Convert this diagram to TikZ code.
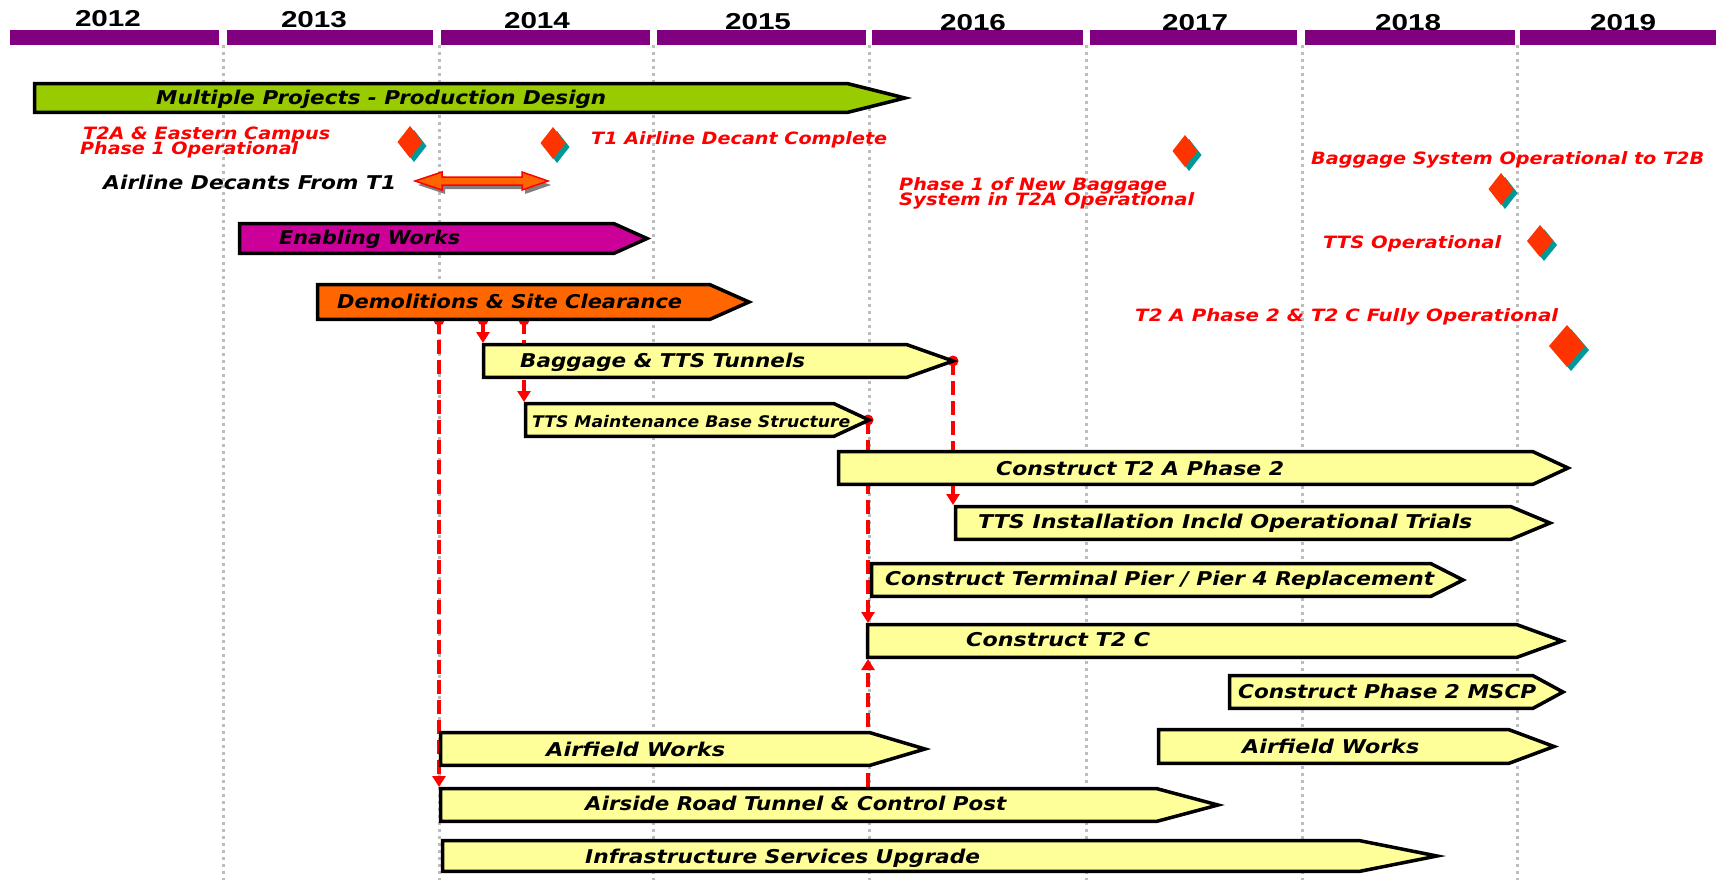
\documentclass[tikz,border=0pt]{standalone}
\usepackage{fontspec}
\usepackage{graphicx}
\usetikzlibrary{arrows.meta}
\newfontfamily\comicf{DejaVu Sans}
\newfontfamily\yearf{Liberation Sans}
\definecolor{barpurple}{HTML}{800080}
\definecolor{gridgrey}{HTML}{BDBDBD}
\definecolor{mpgreen}{HTML}{99CC00}
\definecolor{enmagenta}{HTML}{CC0099}
\definecolor{demoorange}{HTML}{FF6600}
\definecolor{taskyellow}{HTML}{FFFF99}
\definecolor{labelred}{HTML}{FF0000}
\definecolor{msorange}{HTML}{FF3300}
\definecolor{msteal}{HTML}{009999}
\definecolor{shadowgrey}{HTML}{808080}
\newcommand\fw[2]{\resizebox{#1pt}{\height}{#2}}
\newcommand\gbar[6]{\draw[ganttbar, fill=#1] (#2+1.7,#5+1.7) -- (#3,#5+1.7) -- (#4-2,{(#5+#6)/2}) -- (#3,#6-1.7) -- (#2+1.7,#6-1.7) -- cycle;}
\newcommand\milestone[4]{%
  \fill[msteal] (#1+4,#2-#4+4) -- (#1+#3+4,#2+4) -- (#1+4,#2+#4+4) -- (#1-#3+4,#2+4) -- cycle;
  \fill[msorange] (#1,#2-#4) -- (#1+#3,#2) -- (#1,#2+#4) -- (#1-#3,#2) -- cycle;}
\tikzset{
  yearlbl/.style={font=\yearf\bfseries\fontsize{23}{23}\selectfont, inner sep=0pt, anchor=base},
  bartxt/.style={font=\comicf\bfseries\itshape\fontsize{19}{19}\selectfont, inner sep=0pt, anchor=west, text height=13.8pt, text depth=0pt},
  smalltxt/.style={bartxt, font=\comicf\bfseries\itshape\fontsize{16}{16}\selectfont, text height=11.7pt},
  redlbl/.style={bartxt, font=\comicf\bfseries\itshape\fontsize{17}{17}\selectfont, text=labelred, text height=12.4pt},
  ganttbar/.style={draw=black, line width=3.5pt, line join=miter},
  yearbar/.style={fill=barpurple},
  gridline/.style={draw=gridgrey, line width=3pt, dash pattern=on 3pt off 4pt},
  link/.style={draw=labelred, line width=4pt, dash pattern=on 14pt off 6pt, -{Triangle[width=13pt,length=11pt]}},
  linkdot/.style={fill=labelred},
  decant/.style={draw=labelred, line width=1.5pt, fill=demoorange, line join=miter},
  decantshadow/.style={fill=shadowgrey}
}
\begin{document}
\begin{tikzpicture}[x=1pt,y=-1pt]
\useasboundingbox[fill=white] (0,0) rectangle (1716,880);
% grid lines
\foreach \gx in {223,439,653,869,1086,1302,1517}
  \draw[gridline] (\gx,45) -- (\gx,880);
% year bars
\fill[yearbar] (10,30) rectangle (219,45);
\fill[yearbar] (227,30) rectangle (433,45);
\fill[yearbar] (441,30) rectangle (650,45);
\fill[yearbar] (657,30) rectangle (866,45);
\fill[yearbar] (872,30) rectangle (1083,45);
\fill[yearbar] (1090,30) rectangle (1297,45);
\fill[yearbar] (1305,30) rectangle (1515,45);
\fill[yearbar] (1520,30) rectangle (1716,45);
% year labels
\node[yearlbl] (y2012) at (108,27) {\fw{66}{2012}};
\node[yearlbl] (y2013) at (314,28) {\fw{66}{2013}};
\node[yearlbl] (y2014) at (537,28.5) {\fw{66}{2014}};
\node[yearlbl] (y2015) at (758,30) {\fw{66}{2015}};
\node[yearlbl] (y2016) at (973,30.5) {\fw{66}{2016}};
\node[yearlbl] (y2017) at (1195,30.5) {\fw{66}{2017}};
\node[yearlbl] (y2018) at (1408,30.5) {\fw{66}{2018}};
\node[yearlbl] (y2019) at (1623,30.5) {\fw{66}{2019}};
% connector end points
\coordinate (demoA) at (439,320);
\coordinate (airTop) at (439,787);
\coordinate (demoB) at (483,320);
\coordinate (bagTop) at (483,343);
\coordinate (demoC) at (524,320);
\coordinate (maintTop) at (524,402);
\coordinate (bagTip) at (953,361);
\coordinate (ttsTop) at (953,505);
\coordinate (maintTip) at (868,420);
\coordinate (t2cTop) at (868,623);
\coordinate (airTopB) at (868,787);
\coordinate (t2cBot) at (868,659);
% connectors (behind bars)
\draw[link] (demoA) -- (airTop);
\draw[link] (demoB) -- (bagTop);
\draw[link] (demoC) -- (maintTop);
\draw[link] (bagTip) -- (ttsTop);
\draw[link] (maintTip) -- (t2cTop);
\draw[link] (airTopB) -- (t2cBot);
\foreach \c in {demoA,demoB,demoC,bagTip,maintTip}
  \fill[linkdot] (\c) circle (5.5);
% bars
\gbar{mpgreen}{33}{848}{907}{82}{114}
\gbar{enmagenta}{238}{614}{649}{222}{255}
\gbar{demoorange}{316}{710}{751}{283}{321}
\gbar{taskyellow}{482}{907}{955}{343}{379}
\gbar{taskyellow}{524}{834}{871}{402}{438}
\gbar{taskyellow}{837}{1533}{1570}{450}{486}
\gbar{taskyellow}{954}{1511}{1552}{505}{541}
\gbar{taskyellow}{870}{1431}{1465}{562}{598}
\gbar{taskyellow}{866}{1517}{1564}{623}{659}
\gbar{taskyellow}{1228}{1533}{1565}{674}{710}
\gbar{taskyellow}{439}{870}{927}{731}{767}
\gbar{taskyellow}{1157}{1509}{1556}{728}{765}
\gbar{taskyellow}{439}{1157}{1220}{787}{823}
\gbar{taskyellow}{441}{1360}{1439}{839}{873}
% bar texts
\node[bartxt] (tmpd) at (156,98) {\fw{450}{Multiple Projects - Production Design}};
\node[bartxt] (tenab) at (279,238) {\fw{181}{Enabling Works}};
\node[bartxt] (tdemo) at (337,302) {\fw{345}{Demolitions \& Site Clearance}};
\node[bartxt] (tbag) at (520,361) {\fw{285}{Baggage \& TTS Tunnels}};
\node[smalltxt] (tmaint) at (532,422) {\fw{318}{TTS Maintenance Base Structure}};
\node[bartxt] (tt2a) at (996,469) {\fw{288}{Construct T2 A Phase 2}};
\node[bartxt] (ttts) at (978,522) {\fw{494}{TTS Installation Incld Operational Trials}};
\node[bartxt] (tpier) at (885,579) {\fw{549}{Construct Terminal Pier / Pier 4 Replacement}};
\node[bartxt] (tt2c) at (966,640) {\fw{184}{Construct T2 C}};
\node[bartxt] (tmscp) at (1238,692) {\fw{298}{Construct Phase 2 MSCP}};
\node[bartxt] (taf1) at (546,750) {\fw{179}{Airfield Works}};
\node[bartxt] (taf2) at (1242,747) {\fw{177}{Airfield Works}};
\node[bartxt] (tair) at (585,804) {\fw{421}{Airside Road Tunnel \& Control Post}};
\node[bartxt] (tinf) at (585,857) {\fw{395}{Infrastructure Services Upgrade}};
\node[bartxt] (tdecant) at (103,183) {\fw{293}{Airline Decants From T1}};
% milestone labels
\node[redlbl] (l1a) at (83,133) {\fw{247}{T2A \& Eastern Campus}};
\node[redlbl] (l1b) at (80,148) {\fw{218}{Phase 1 Operational}};
\node[redlbl] (l2) at (591,138) {\fw{296}{T1 Airline Decant Complete}};
\node[redlbl] (l3a) at (899,184) {\fw{268}{Phase 1 of New Baggage}};
\node[redlbl] (l3b) at (899,199) {\fw{295}{System in T2A Operational}};
\node[redlbl] (l4) at (1311,158) {\fw{393}{Baggage System Operational to T2B}};
\node[redlbl] (l5) at (1323,242) {\fw{178}{TTS Operational}};
\node[redlbl] (l6) at (1135,315) {\fw{423}{T2 A Phase 2 \& T2 C Fully Operational}};
% milestones
\milestone{410}{142}{12.5}{16}
\milestone{553}{143}{12.5}{16}
\milestone{1185}{151}{12.5}{16}
\milestone{1501}{189}{12.5}{16}
\milestone{1540}{241}{13}{16}
\milestone{1567}{346}{18}{21}
% airline decant double arrow
\fill[decantshadow, shift={(3,4)}] (415,181) -- (442,172) -- (442,177) -- (522,177) -- (522,172) -- (548,181) -- (522,190) -- (522,185) -- (442,185) -- (442,190) -- cycle;
\draw[decant] (415,181) -- (442,172) -- (442,177) -- (522,177) -- (522,172) -- (548,181) -- (522,190) -- (522,185) -- (442,185) -- (442,190) -- cycle;
\end{tikzpicture}
\end{document}
